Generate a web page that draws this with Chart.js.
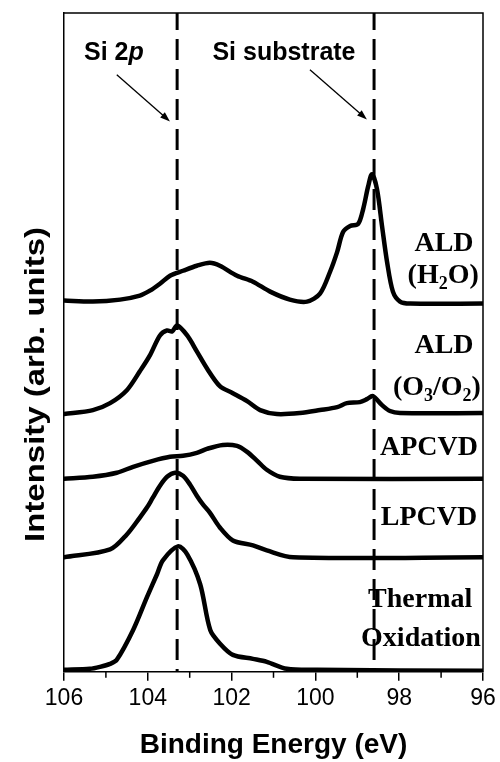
<!DOCTYPE html>
<html>
<head>
<meta charset="utf-8">
<script src="https://cdn.jsdelivr.net/npm/chart.js@4.4.0/dist/chart.umd.min.js"></script>
<style>
  html, body { margin: 0; padding: 0; background: #fff; }
  #wrap { width: 500px; height: 762px; position: relative; }
</style>
</head>
<body>
<div id="wrap"><canvas id="xpsChart"></canvas></div>
<script>
// Si 2p spectra, binding energy (eV) vs intensity (arb. units, curves already offset)
var thermalEnergy = [106, 105.38, 105.14, 104.9, 104.74, 104.35, 104.02, 103.78, 103.64, 103.28, 103.06, 102.75, 102.51, 102.27, 101.97, 101.49, 101.16, 100.68, 99.96, 96];
var thermal       = [2, 3, 5, 8, 12, 42, 75, 98, 112, 126, 118, 88, 42, 28, 17, 13, 10, 3, 2, 1];

var lpcvdEnergy = [106, 104.9, 104.5, 104.19, 104.02, 103.88, 103.71, 103.54, 103.35, 103.16, 102.99, 102.83, 102.68, 102.52, 102.28, 101.97, 101.49, 101.16, 100.53, 96];
var lpcvd       = [115, 123, 138, 155, 165, 175, 187, 196, 200, 197, 188, 177, 168, 160, 145, 132, 127, 122, 115, 115];

var apcvdEnergy = [106, 105.31, 104.74, 104.35, 103.88, 103.47, 103.16, 102.83, 102.59, 102.21, 101.87, 101.63, 101.39, 101.16, 100.85, 100.37, 96];
var apcvd       = [194, 196, 200, 206, 212, 216, 217, 220, 224, 228, 227, 221, 212, 203, 196, 194, 194];

var aldO3Energy = [106, 105.31, 104.9, 104.5, 104.19, 103.95, 103.71, 103.54, 103.42, 103.3, 103.06, 102.83, 102.59, 102.28, 101.97, 101.63, 101.32, 100.92, 100.37, 99.89, 99.48, 99.25, 98.94, 98.77, 98.63, 98.41, 98.22, 97.98, 96];
var aldO3       = [259, 263, 270, 283, 302, 318, 338, 343, 342, 348, 338, 322, 305, 287, 280, 272, 263, 259, 260, 263, 266, 270, 271, 274, 277, 268, 262, 260, 260];

var aldH2OEnergy = [106, 105.31, 104.66, 104.19, 103.95, 103.71, 103.47, 103.16, 102.83, 102.52, 102.28, 101.87, 101.49, 101.08, 100.61, 100.2, 99.89, 99.65, 99.48, 99.34, 99.17, 98.98, 98.86, 98.74, 98.65, 98.53, 98.41, 98.29, 98.15, 97.98, 97.74, 96];
var aldH2O       = [373, 372, 374, 378, 383, 390, 398, 403, 408, 411, 408, 398, 392, 382, 374, 372, 380, 402, 422, 442, 448, 450, 465, 488, 500, 485, 448, 412, 382, 372, 370, 370];

var refEnergies = [103.3, 98.6];   // Si 2p and Si substrate
var yTop = 662;

var SANS = '"Liberation Sans", Arial, sans-serif';
var SERIF = '"Liberation Serif", "Times New Roman", serif';

function pairs(xs, ys) {
  return xs.map(function (x, i) { return { x: x, y: ys[i] }; });
}

function curve(xs, ys) {
  return {
    data: pairs(xs, ys),
    borderColor: '#000',
    borderWidth: 4.5,
    pointRadius: 0,
    tension: 0.3,
    borderJoinStyle: 'round',
    borderCapStyle: 'round'
  };
}

function refLine(e) {
  return {
    data: [{ x: e, y: yTop }, { x: e, y: 0 }],
    borderColor: '#000',
    borderWidth: 3,
    borderDash: [21, 9],
    borderDashOffset: 4,
    pointRadius: 0
  };
}

// text labels placed in data coordinates (eV, intensity)
var notes = [
  { runs: [['Si 2', ''], ['p', 'italic']], x: 104.81, y: 622, family: SANS, size: 25 },
  { runs: [['Si substrate', '']], x: 100.75, y: 622, family: SANS, size: 25 },
  { runs: [['ALD', '']], x: 96.93, y: 430, family: SERIF, size: 28 },
  { runs: [['(H', ''], ['2', 'sub'], ['O)', '']], x: 96.95, y: 398, family: SERIF, size: 28 },
  { runs: [['ALD', '']], x: 96.93, y: 328, family: SERIF, size: 28 },
  { runs: [['(O', ''], ['3', 'sub'], ['/O', ''], ['2', 'sub'], [')', '']], x: 97.1, y: 285, family: SERIF, size: 28 },
  { runs: [['APCVD', '']], x: 97.29, y: 225, family: SERIF, size: 28 },
  { runs: [['LPCVD', '']], x: 97.29, y: 155, family: SERIF, size: 28 },
  { runs: [['Thermal', '']], x: 97.5, y: 72, family: SERIF, size: 28 },
  { runs: [['Oxidation', '']], x: 97.48, y: 33, family: SERIF, size: 28 }
];

var arrows = [
  { x1: 104.74, y1: 600, x2: 103.47, y2: 553 },
  { x1: 100.13, y1: 605, x2: 98.77, y2: 555 }
];

function runFont(style, family, size) {
  if (style === 'sub') return 'bold ' + Math.round(size * 0.65) + 'px ' + family;
  if (style === 'italic') return 'italic bold ' + size + 'px ' + family;
  return 'bold ' + size + 'px ' + family;
}

function drawRuns(ctx, note, cx, cy) {
  var total = 0;
  note.runs.forEach(function (r) {
    ctx.font = runFont(r[1], note.family, note.size);
    total += ctx.measureText(r[0]).width;
  });
  var x = cx - total / 2;
  ctx.textBaseline = 'middle';
  ctx.textAlign = 'left';
  note.runs.forEach(function (r) {
    ctx.font = runFont(r[1], note.family, note.size);
    var dy = r[1] === 'sub' ? note.size * 0.3 : 0;
    ctx.fillText(r[0], x, cy + dy);
    x += ctx.measureText(r[0]).width;
  });
}

var decorations = {
  id: 'decorations',
  afterDraw: function (chart) {
    var ctx = chart.ctx;
    var area = chart.chartArea;
    var xs = chart.scales.x;
    var ys = chart.scales.y;
    ctx.save();
    ctx.strokeStyle = '#000';
    ctx.fillStyle = '#000';

    // top and right frame
    ctx.lineWidth = 1.5;
    ctx.beginPath();
    ctx.moveTo(area.left, area.top);
    ctx.lineTo(area.right, area.top);
    ctx.lineTo(area.right, area.bottom);
    ctx.stroke();

    // minor ticks at odd eV
    for (var v = 97; v <= 105; v += 2) {
      var px = xs.getPixelForValue(v);
      ctx.beginPath();
      ctx.moveTo(px, area.bottom);
      ctx.lineTo(px, area.bottom + 6);
      ctx.stroke();
    }

    // arrows
    ctx.lineWidth = 1.3;
    arrows.forEach(function (a) {
      var x1 = xs.getPixelForValue(a.x1), y1 = ys.getPixelForValue(a.y1);
      var x2 = xs.getPixelForValue(a.x2), y2 = ys.getPixelForValue(a.y2);
      var ang = Math.atan2(y2 - y1, x2 - x1);
      ctx.beginPath();
      ctx.moveTo(x1, y1);
      ctx.lineTo(x2 - 6 * Math.cos(ang), y2 - 6 * Math.sin(ang));
      ctx.stroke();
      ctx.beginPath();
      ctx.moveTo(x2, y2);
      ctx.lineTo(x2 - 10 * Math.cos(ang) + 3.5 * Math.sin(ang), y2 - 10 * Math.sin(ang) - 3.5 * Math.cos(ang));
      ctx.lineTo(x2 - 10 * Math.cos(ang) - 3.5 * Math.sin(ang), y2 - 10 * Math.sin(ang) + 3.5 * Math.cos(ang));
      ctx.closePath();
      ctx.fill();
    });

    // labels
    notes.forEach(function (n) {
      drawRuns(ctx, n, xs.getPixelForValue(n.x), ys.getPixelForValue(n.y));
    });

    // y axis title, stretched along its length like the original
    var title = 'Intensity (arb. units)';
    ctx.font = 'bold 27px ' + SANS;
    var w = ctx.measureText(title).width;
    ctx.translate(37, (area.top + area.bottom) / 2 + 42);
    ctx.rotate(-Math.PI / 2);
    ctx.scale(315 / w, 1);
    ctx.textAlign = 'center';
    ctx.textBaseline = 'middle';
    ctx.fillText(title, 0, 0);
    ctx.restore();
  }
};

var datasets = refEnergies.map(refLine).concat([
  curve(aldH2OEnergy, aldH2O),
  curve(aldO3Energy, aldO3),
  curve(apcvdEnergy, apcvd),
  curve(lpcvdEnergy, lpcvd),
  curve(thermalEnergy, thermal)
]);

new Chart(document.getElementById('xpsChart'), {
  type: 'line',
  data: { datasets: datasets },
  options: {
    responsive: true,
    maintainAspectRatio: false,
    animation: false,
    layout: { padding: { left: 64, right: 17, top: 13, bottom: 0 } },
    plugins: { legend: { display: false }, tooltip: { enabled: false } },
    scales: {
      x: {
        type: 'linear',
        reverse: true,
        min: 96,
        max: 106,
        ticks: {
          stepSize: 2,
          color: '#000',
          padding: 4,
          font: { family: SANS, size: 23 }
        },
        grid: { drawOnChartArea: false, drawTicks: true, tickLength: 9, color: '#000', lineWidth: 1.5 },
        border: { display: true, color: '#000', width: 1.5 },
        title: {
          display: true,
          text: 'Binding Energy (eV)',
          color: '#000',
          font: { family: SANS, size: 28, weight: 'bold' },
          padding: { top: 12, bottom: 0 }
        }
      },
      y: {
        type: 'linear',
        min: 0,
        max: yTop,
        ticks: { display: false },
        grid: { display: false },
        border: { display: true, color: '#000', width: 1.5 },
        afterFit: function (s) { s.width = 0; }
      }
    }
  },
  plugins: [decorations]
});
</script>
</body>
</html>
